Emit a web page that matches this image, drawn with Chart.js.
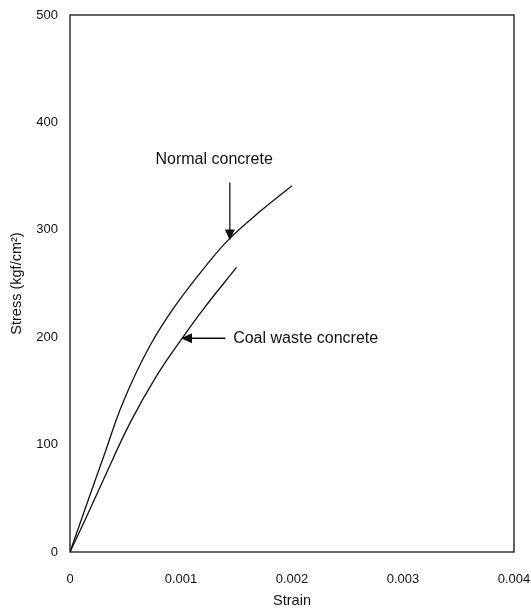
<!DOCTYPE html>
<html>
<head>
<meta charset="utf-8">
<script src="https://cdn.jsdelivr.net/npm/chart.js@4/dist/chart.umd.min.js"></script>
<style>
  html, body { margin: 0; padding: 0; background: #fff; }
  #wrap { width: 531px; height: 613px; }
</style>
</head>
<body>
<div id="wrap"><canvas id="chart" width="531" height="613"></canvas></div>
<script>
// strain-stress curves
const normalStrain = [0, 0.00018, 0.0003, 0.00048, 0.00072, 0.00096, 0.00126, 0.00144, 0.0017, 0.002];
const normalStress = [0, 53, 88, 140, 192, 231, 271, 292, 316, 341];
const coalStrain = [0, 0.00015, 0.0003, 0.00054, 0.00078, 0.00101, 0.0012, 0.0015];
const coalStress = [0, 33, 67, 120, 164, 199, 226, 265];

const xTicks = [0, 0.001, 0.002, 0.003, 0.004];
const yTicks = [0, 100, 200, 300, 400, 500];

const FONT = "'Liberation Sans', Arial, Helvetica, sans-serif";
const INK = '#111';

function toPoints(xs, ys) {
  return xs.map((x, i) => ({ x: x, y: ys[i] }));
}

// frame around the plot area
const frame = {
  id: 'frame',
  afterDraw(chart) {
    const { ctx, chartArea: a } = chart;
    ctx.save();
    ctx.strokeStyle = INK;
    ctx.lineWidth = 1.3;
    ctx.strokeRect(a.left, a.top, a.right - a.left, a.bottom - a.top);
    ctx.restore();
  }
};

// labels + arrows, placed in data coordinates
function arrow(ctx, x1, y1, x2, y2) {
  const ang = Math.atan2(y2 - y1, x2 - x1);
  const len = 11, w = 5;
  ctx.beginPath();
  ctx.moveTo(x1, y1);
  ctx.lineTo(x2 - Math.cos(ang) * len * 0.8, y2 - Math.sin(ang) * len * 0.8);
  ctx.stroke();
  ctx.beginPath();
  ctx.moveTo(x2, y2);
  ctx.lineTo(x2 - Math.cos(ang) * len - Math.sin(ang) * w, y2 - Math.sin(ang) * len + Math.cos(ang) * w);
  ctx.lineTo(x2 - Math.cos(ang) * len + Math.sin(ang) * w, y2 - Math.sin(ang) * len - Math.cos(ang) * w);
  ctx.closePath();
  ctx.fill();
}

const notes = {
  id: 'notes',
  afterDraw(chart) {
    const { ctx } = chart;
    const xs = chart.scales.x, ys = chart.scales.y;
    ctx.save();
    ctx.fillStyle = INK;
    ctx.strokeStyle = INK;
    ctx.lineWidth = 1.3;
    ctx.font = '16px ' + FONT;
    ctx.textBaseline = 'middle';
    ctx.textAlign = 'left';

    ctx.fillText('Normal concrete', xs.getPixelForValue(0.00077), ys.getPixelForValue(365));
    arrow(ctx, xs.getPixelForValue(0.00144), ys.getPixelForValue(344),
               xs.getPixelForValue(0.00144), ys.getPixelForValue(290));

    ctx.fillText('Coal waste concrete', xs.getPixelForValue(0.00147), ys.getPixelForValue(199));
    arrow(ctx, xs.getPixelForValue(0.0014), ys.getPixelForValue(199),
               xs.getPixelForValue(0.001), ys.getPixelForValue(199));
    ctx.restore();
  }
};

new Chart(document.getElementById('chart'), {
  type: 'line',
  data: {
    datasets: [
      { label: 'Normal concrete', data: toPoints(normalStrain, normalStress) },
      { label: 'Coal waste concrete', data: toPoints(coalStrain, coalStress) }
    ]
  },
  options: {
    responsive: false,
    animation: false,
    devicePixelRatio: 1,
    layout: { padding: { top: 15, right: 17, left: 0, bottom: 0 } },
    elements: {
      point: { radius: 0 },
      line: { borderColor: INK, borderWidth: 1.3, tension: 0.4, fill: false }
    },
    plugins: { legend: { display: false }, tooltip: { enabled: false } },
    scales: {
      x: {
        type: 'linear',
        min: 0, max: 0.004,
        afterFit(s) { s.height = 61; s.paddingLeft = 0; s.paddingRight = 0; },
        afterBuildTicks(s) { s.ticks = xTicks.map(v => ({ value: v })); },
        grid: { display: false, drawTicks: false },
        border: { display: false },
        ticks: {
          color: INK, padding: 20,
          font: { family: FONT, size: 13 },
          callback: v => (v === 0 ? '0' : v.toFixed(3))
        },
        title: { display: true, text: 'Strain', color: INK, font: { family: FONT, size: 14.5 }, padding: { top: 0, bottom: 3 } }
      },
      y: {
        type: 'linear',
        min: 0, max: 500,
        afterFit(s) { s.width = 70; s.paddingTop = 0; s.paddingBottom = 0; },
        afterBuildTicks(s) { s.ticks = yTicks.map(v => ({ value: v })); },
        grid: { display: false, drawTicks: false },
        border: { display: false },
        ticks: { color: INK, padding: 12, font: { family: FONT, size: 13 } },
        title: { display: true, text: 'Stress (kgf/cm²)', color: INK, font: { family: FONT, size: 14.5 }, padding: { top: 8, bottom: 0 } }
      }
    }
  },
  plugins: [frame, notes]
});
</script>
</body>
</html>
